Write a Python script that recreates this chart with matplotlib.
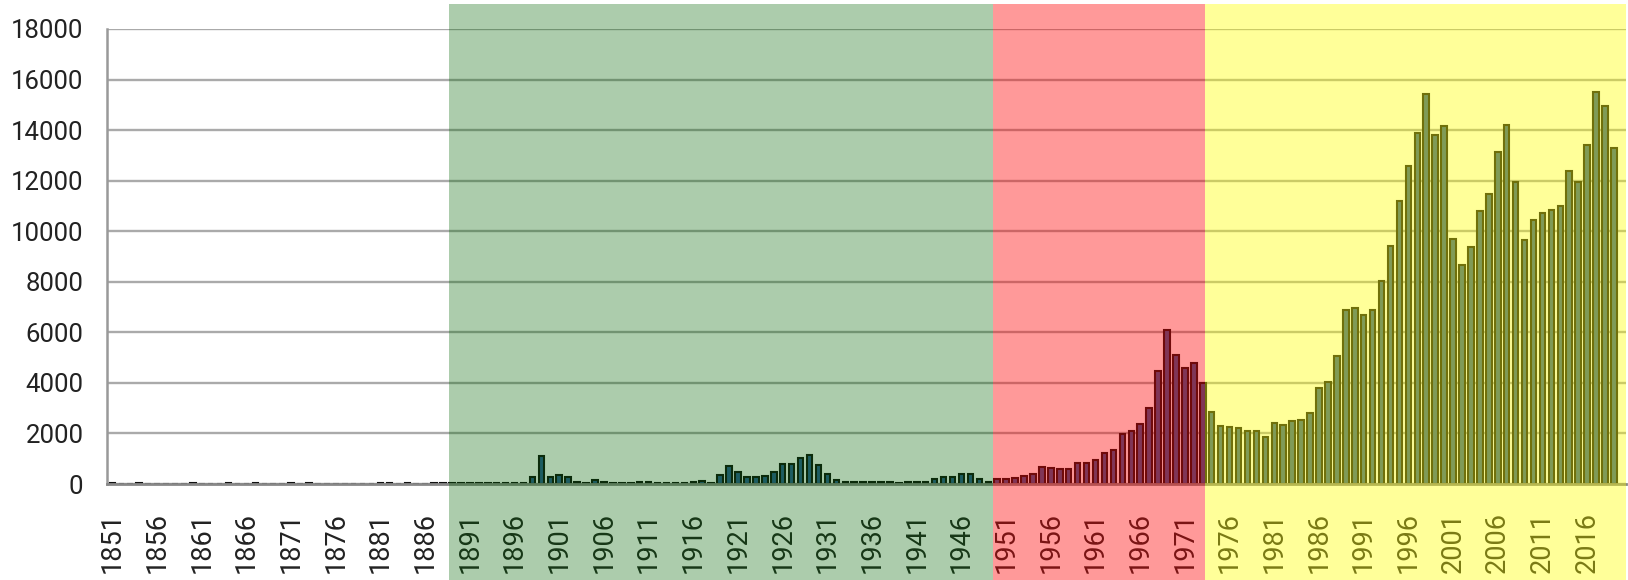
import numpy as np
import matplotlib
matplotlib.use("Agg")
import matplotlib.pyplot as plt
from matplotlib.patches import Rectangle
from matplotlib.transforms import blended_transform_factory

plt.rcParams['font.family'] = ['Roboto', 'DejaVu Sans']

years = np.arange(1851, 2020)

# values per year, one row per decade (1851-1860, 1861-1870, ...)
values = [
    30, 0, 0, 30, 0, 0, 0, 0, 0, 30,
    0, 0, 0, 30, 0, 0, 30, 0, 0, 0,
    30, 0, 30, 0, 0, 0, 0, 0, 0, 0,
    30, 30, 0, 30, 0, 0, 30, 30, 30, 30,
    30, 30, 30, 30, 30, 30, 30, 270, 1110, 270,
    365, 270, 68, 40, 175, 68, 40, 40, 40, 68,
    68, 40, 40, 40, 40, 80, 120, 40, 370, 715,
    473, 270, 270, 310, 473, 810, 810, 1026, 1161, 770,
    405, 175, 68, 68, 68, 68, 68, 68, 40, 68,
    68, 68, 190, 290, 290, 390, 390, 195, 90, 200,
    211, 250, 303, 408, 685, 632, 593, 593, 830, 830,
    935, 1225, 1330, 1962, 2094, 2357, 2990, 4451, 6111, 5123,
    4596, 4794, 4004, 2830, 2305, 2250, 2200, 2100, 2100, 1850,
    2400, 2350, 2500, 2550, 2800, 3800, 4050, 5050, 6900, 6950,
    6700, 6900, 8050, 9430, 11180, 12590, 13880, 15420, 13810, 14160,
    9700, 8650, 9380, 10800, 11480, 13140, 14210, 11960, 9660, 10440,
    10730, 10840, 10990, 12400, 11960, 13420, 15520, 14940, 13290,
]

tick_years = years[::5]

# shaded periods: start, end, colour, alpha
band_starts = [1888.65, 1949.55, 1973.3]
band_ends = [1949.55, 1973.3, 2020.35]
band_colors = ['#006400', '#ff0000', '#ffff00']
band_alpha = [0.325, 0.4, 0.4]

fig = plt.figure(figsize=(16.28, 5.8), dpi=100)
ax = fig.add_axes([107 / 1628, 1 - 484 / 580, 1519 / 1628, 455 / 580])

ax.bar(years, values, width=0.62, color='#2c5a92', edgecolor='#111111',
       linewidth=1.5, zorder=2)

ax.set_xlim(1850.4, 2020.35)
ax.set_ylim(0, 18000)
ax.set_yticks(range(0, 18001, 2000))
ax.set_xticks(tick_years)
ax.set_xticklabels([str(y) for y in tick_years], rotation=90)

ax.grid(axis='y', color='#aaaaaa', linewidth=1.7)
ax.set_axisbelow(True)
ax.tick_params(axis='both', length=0, colors='#222222')
ax.tick_params(axis='x', pad=20.5, labelsize=19.5)
ax.tick_params(axis='y', pad=17, labelsize=18.5)

for s in ['top', 'right']:
    ax.spines[s].set_visible(False)
ax.spines['left'].set_color('#999999')
ax.spines['left'].set_linewidth(1.8)
ax.spines['bottom'].set_color('#888888')
ax.spines['bottom'].set_linewidth(2.0)

# translucent bands over everything, tick labels included
trans = blended_transform_factory(ax.transData, fig.transFigure)
for x0, x1, c, a in zip(band_starts, band_ends, band_colors, band_alpha):
    r = Rectangle((x0, 0), x1 - x0, 1 - 4 / 580, transform=trans,
                  facecolor=c, alpha=a, edgecolor='none', zorder=10,
                  clip_on=False)
    fig.add_artist(r)

fig.savefig('out.png', dpi=100)
